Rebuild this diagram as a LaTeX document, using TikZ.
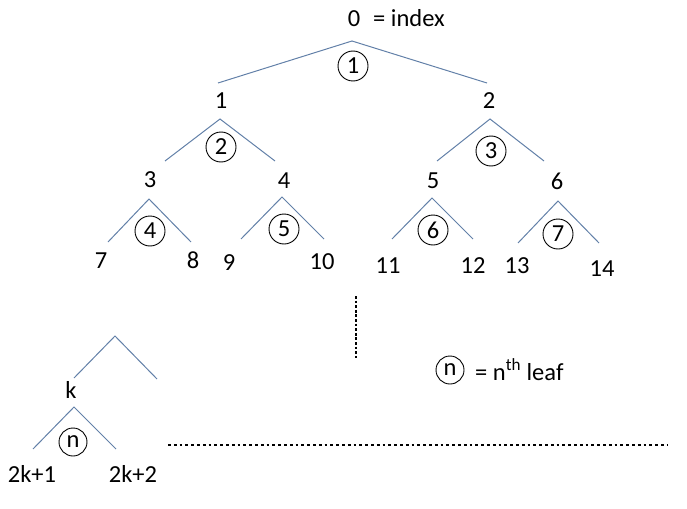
\documentclass[tikz,border=0pt]{standalone}
\usepackage{fontspec}
\setmainfont{Carlito}
\definecolor{edgeblue}{RGB}{98,128,168}
\begin{document}
\begin{tikzpicture}[x=1pt,y=-1pt,
  lbl/.style={inner sep=0pt, anchor=base, font=\fontsize{24.5}{28}\selectfont},
  lblw/.style={inner sep=0pt, anchor=base west, font=\fontsize{24.5}{28}\selectfont},
  leaf/.style={draw, circle, minimum size=30pt, inner sep=0pt, line width=0.9pt, font=\fontsize{24.5}{28}\selectfont},
  branch/.style={draw=edgeblue, line width=1pt},
  dotline/.style={line width=2.8pt, dash pattern=on 2.8pt off 3pt}]
\useasboundingbox (0,0) rectangle (687,508);
% index labels
\node[lbl] (t0) at (354,27) {0};
\node[lblw] (idx) at (373,27) {= index};
\node[lbl] (t1) at (221,108) {1};
\node[lbl] (t2) at (489,109) {2};
\node[lbl] (t3) at (150,187) {3};
\node[lbl] (t4) at (284,188) {4};
\node[lbl] (t5) at (433,188) {5};
\node[lbl] (t6) at (557,189) {6};
\node[lbl] (t7) at (101,268) {7};
\node[lbl] (t8) at (193,268) {8};
\node[lbl] (t9) at (229,270) {9};
\node[lbl] (t10) at (322,269) {10};
\node[lbl] (t11) at (388,273) {11};
\node[lbl] (t12) at (473,273) {12};
\node[lbl] (t13) at (517,273) {13};
\node[lbl] (t14) at (602,276) {14};
\node[lbl] (tk) at (71,398) {k};
\node[lbl] (tk1) at (32,482) {2k+1};
\node[lbl] (tk2) at (133,482) {2k+2};
% leaf circles
\node[leaf] (c1) at (353,66) {1};
\node[leaf] (c2) at (221,147) {2};
\node[leaf] (c3) at (491,151) {3};
\node[leaf] (c4) at (150,231) {4};
\node[leaf] (c5) at (284,229) {5};
\node[leaf] (c6) at (433,230) {6};
\node[leaf] (c7) at (558,234) {7};
\node[leaf, minimum size=28pt] (cn) at (73,442) {n};
\node[leaf, minimum size=28pt] (cl) at (450,370) {n};
\node[lblw] (legend) at (475,380) {= n\textsuperscript{th} leaf};
% branch points
\coordinate (a0) at (352,41); \coordinate (l0) at (218,83); \coordinate (r0) at (487,83);
\coordinate (a1) at (220,119); \coordinate (l1) at (165,161); \coordinate (r1) at (275,161);
\coordinate (a2) at (490,119); \coordinate (l2) at (437,161); \coordinate (r2) at (544,161);
\coordinate (a3) at (149,199); \coordinate (l3) at (108,242); \coordinate (r3) at (191,242);
\coordinate (a4) at (282,197); \coordinate (l4) at (241,239); \coordinate (r4) at (324,239);
\coordinate (a5) at (432,198); \coordinate (l5) at (392,239); \coordinate (r5) at (473,239);
\coordinate (a6) at (558,201); \coordinate (l6) at (518,243); \coordinate (r6) at (599,243);
\coordinate (au) at (115,336); \coordinate (lu) at (74,378); \coordinate (ru) at (157,379);
\coordinate (ak) at (74,407); \coordinate (lk) at (33,449); \coordinate (rk) at (116,449);
\foreach \w in {0,1,2,3,4,5,6,u,k}{
  \draw[branch] (l\w) -- (a\w) -- (r\w);
}
% ellipsis dots
\coordinate (vd1) at (356,296); \coordinate (vd2) at (356,358);
\coordinate (hd1) at (168,445); \coordinate (hd2) at (668,445);
\draw[line width=2.8pt, dash pattern=on 2.8pt off 1.8pt] (vd1) -- (vd2);
\draw[dotline] (hd1) -- (hd2);
\end{tikzpicture}
\end{document}
